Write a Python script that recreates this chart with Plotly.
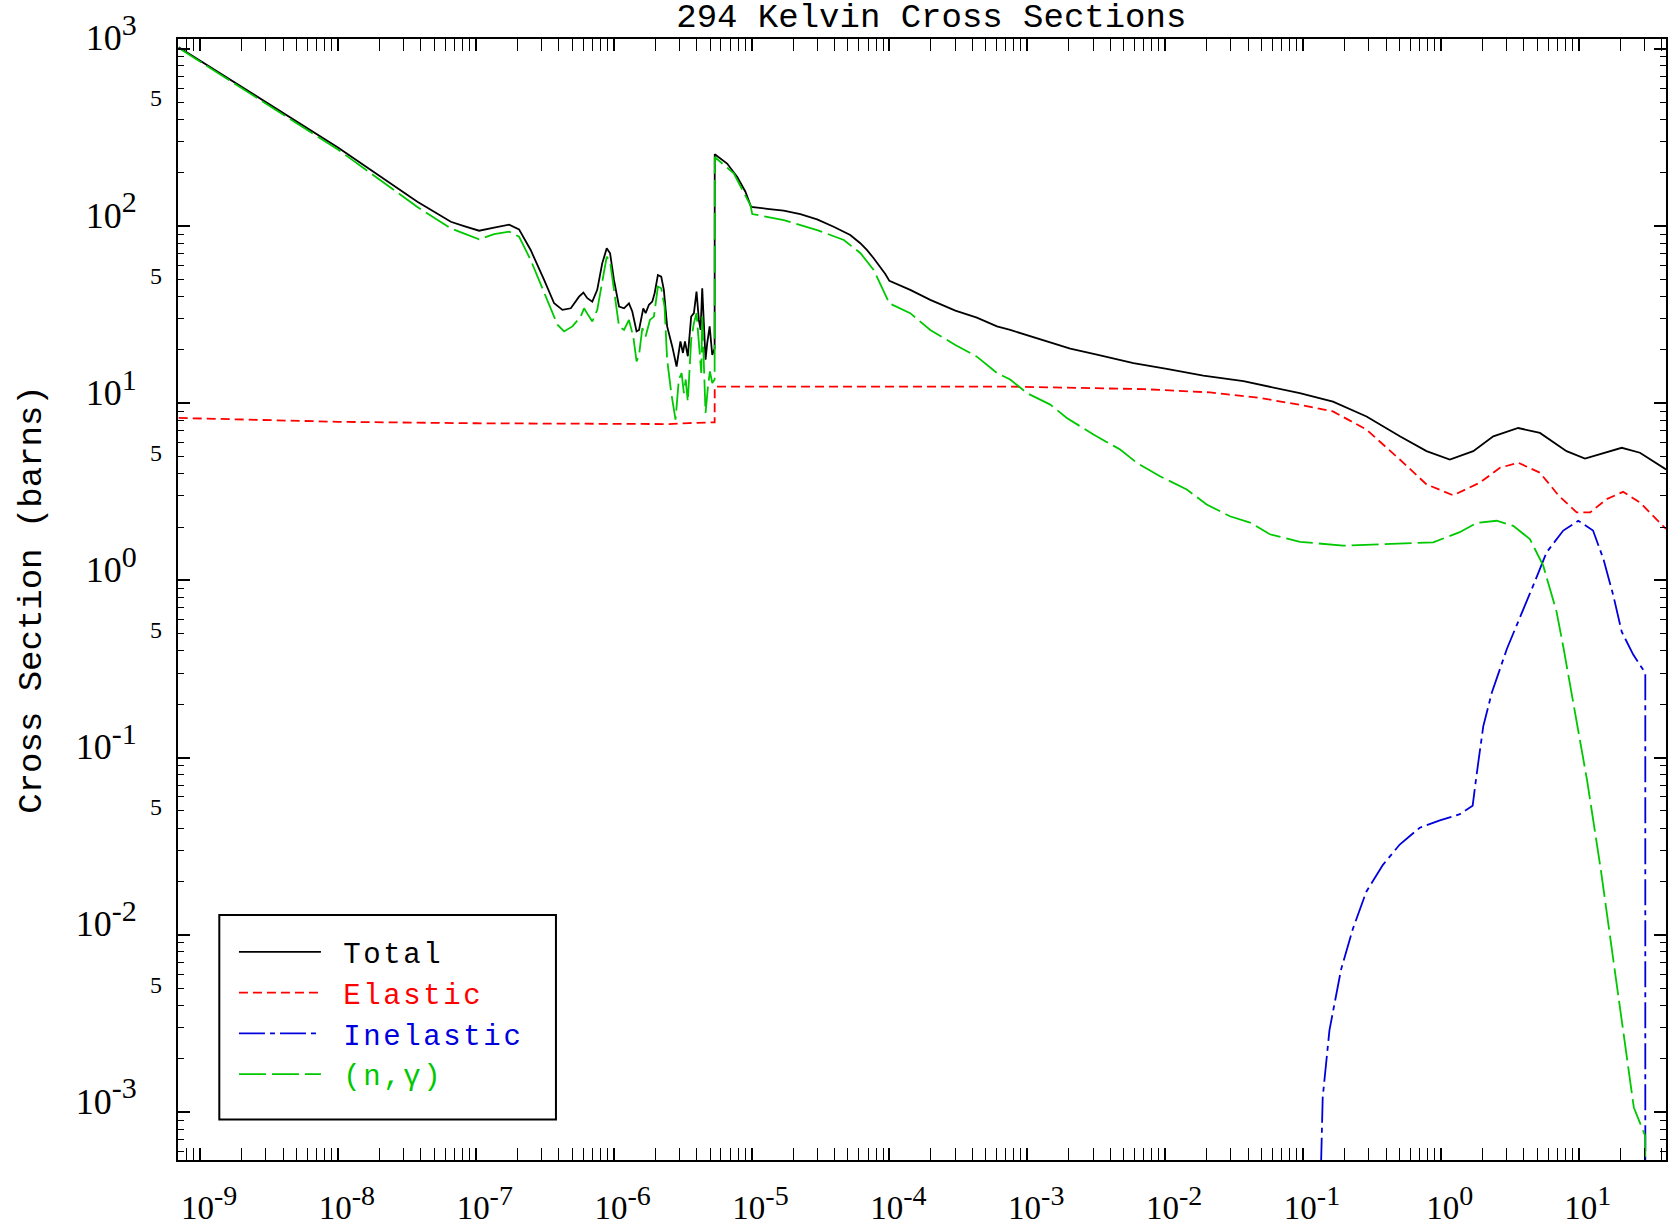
import plotly.graph_objects as go

# ---------------- data (energy in MeV, cross section in barns) ----------------
energy_total = [7.0e-10, 1.0e-8, 3.77e-8, 6.59e-8, 8.22e-8, 1.057e-7, 1.358e-7, 1.746e-7, 2.06e-7, 2.50e-7,
                3.13e-7, 3.70e-7, 4.25e-7, 4.89e-7, 5.61e-7, 6.03e-7, 6.44e-7, 7.00e-7, 7.60e-7, 8.26e-7,
                8.91e-7, 9.42e-7, 1.005e-6, 1.094e-6, 1.189e-6, 1.291e-6, 1.365e-6, 1.466e-6, 1.528e-6, 1.640e-6,
                1.706e-6, 1.803e-6, 1.905e-6, 1.982e-6, 2.094e-6, 2.213e-6, 2.312e-6, 2.443e-6, 2.66e-6, 2.86e-6,
                3.05e-6, 3.18e-6, 3.29e-6, 3.45e-6, 3.65e-6, 3.82e-6, 3.99e-6, 4.15e-6, 4.27e-6, 4.39e-6,
                4.64e-6, 4.77e-6, 4.97e-6, 5.19e-6, 5.40e-6, 5.41e-6, 6.65e-6, 7.88e-6, 9.03e-6, 9.93e-6,
                1.30e-5, 1.71e-5, 2.26e-5, 2.99e-5, 3.94e-5, 5.20e-5, 6.15e-5, 6.89e-5, 7.69e-5, 8.59e-5,
                9.34e-5, 1.0e-4, 1.416e-4, 1.98e-4, 3.01e-4,
                4.31e-4, 6.03e-4, 7.52e-4, 1.052e-3, 2.05e-3, 3.20e-3, 5.89e-3, 1.028e-2, 1.892e-2, 3.70e-2,
                6.46e-2, 0.0948, 0.165, 0.289, 0.504, 0.787, 1.162, 1.717, 2.40, 3.64,
                5.23, 8.16, 11.1, 15.1, 20.5, 27.8, 43.0]
xs_total = [1021, 277, 137, 105.6, 99.9, 94.0, 97.7, 101.6, 95.6, 73.2,
            49.6, 36.6, 33.6, 34.3, 39.9, 42.1, 39.1, 37.4, 43.6, 61.5,
            74.8, 70.1, 49.6, 35.1, 34.3, 36.6, 32.9, 25.4, 25.9, 34.3,
            32.2, 35.9, 37.4, 41.7, 52.9, 51.8, 43.6, 27.1, 20.9, 16.1,
            22.3, 19.2, 22.3, 18.4, 30.8, 32.2, 42.6, 29.5, 25.9, 44.5,
            17.6, 21.8, 27.1, 18.7, 20.4, 254, 225, 189, 156, 128,
            125, 122, 116.7, 109, 99.0, 88.9, 79.9, 73.1, 65.7, 58.9,
            53.6, 49.0, 43.6, 38.3, 33.3,
            30.4, 27.1, 25.9, 23.8, 20.3, 18.8, 16.8, 15.6, 14.3, 13.3,
            12.2, 11.4, 10.2, 8.41, 6.50, 5.36, 4.81, 5.36, 6.50, 7.24,
            6.79, 5.36, 4.87, 5.25, 5.60, 5.25, 4.23]

energy_elastic = [7.0e-10, 1.0e-8, 1.0e-7, 1.0e-6, 2.5e-6, 3.5e-6, 5.40e-6, 5.41e-6, 7.52e-4, 6.95e-3,
                  2.12e-2, 4.88e-2, 0.0948, 0.165, 0.289, 0.504, 0.787, 1.229, 1.92, 2.68,
                  3.64, 5.23, 7.18, 9.66, 12.1, 15.9, 21.0, 27.8, 43.0]
xs_elastic = [8.25, 7.85, 7.70, 7.60, 7.62, 7.72, 7.80, 12.4, 12.4, 12.0,
              11.5, 10.7, 9.79, 8.98, 7.09, 4.81, 3.48, 3.02, 3.56, 4.32,
              4.61, 4.05, 3.00, 2.42, 2.42, 2.87, 3.16, 2.75, 1.95]

energy_inelastic = [0.133, 0.139, 0.1556, 0.169, 0.189, 0.230, 0.288, 0.380, 0.503, 0.703,
                    0.983, 1.375, 1.70, 1.82, 2.03, 2.34, 3.01, 4.68, 5.85, 7.72,
                    9.92, 12.7, 15.1, 17.8, 20.5, 24.9, 30.4, 30.4]
xs_inelastic = [3e-4, 1.21e-3, 2.90e-3, 4.12e-3, 6.38e-3, 0.0108, 0.0175, 0.0248, 0.0323, 0.0402,
                0.0442, 0.0479, 0.0534, 0.0810, 0.150, 0.232, 0.410, 0.937, 1.44, 1.91,
                2.17, 1.91, 1.32, 0.824, 0.513, 0.380, 0.300, 1e-4]

energy_capture = [7.0e-10, 1.0e-8, 3.77e-8, 6.59e-8, 1.057e-7, 1.358e-7, 1.746e-7, 2.06e-7, 2.50e-7, 3.13e-7,
                  3.91e-7, 4.37e-7, 5.02e-7, 5.77e-7, 6.10e-7, 6.52e-7, 7.00e-7, 7.60e-7, 8.26e-7, 8.91e-7,
                  9.42e-7, 1.005e-6, 1.094e-6, 1.189e-6, 1.291e-6, 1.387e-6, 1.466e-6, 1.528e-6, 1.614e-6, 1.706e-6,
                  1.832e-6, 1.959e-6, 2.094e-6, 2.213e-6, 2.339e-6, 2.443e-6, 2.618e-6, 2.81e-6, 2.97e-6, 3.11e-6,
                  3.23e-6, 3.33e-6, 3.45e-6, 3.65e-6, 3.82e-6, 3.99e-6, 4.15e-6, 4.32e-6, 4.39e-6, 4.64e-6,
                  4.83e-6, 4.99e-6, 5.19e-6, 5.40e-6, 5.41e-6, 7.43e-6, 9.82e-6, 1.012e-5, 1.714e-5, 2.99e-5,
                  4.67e-5, 6.17e-5, 7.69e-5, 1.0e-4, 1.416e-4, 1.98e-4, 3.01e-4, 4.31e-4, 6.03e-4, 7.52e-4,
                  9.95e-4, 1.469e-3, 1.936e-3, 3.02e-3, 4.72e-3, 6.22e-3, 9.18e-3, 1.435e-2, 2.00e-2, 2.95e-2,
                  4.13e-2, 5.75e-2, 9.51e-2, 0.1567, 0.195, 0.880, 1.37, 1.82, 2.54, 3.35,
                  4.42, 5.53, 6.91, 7.78, 9.20, 11.5, 14.4, 18.0, 21.3, 25.1,
                  30.4, 30.4]
xs_capture = [1010, 270, 128, 96.9, 84.0, 90.0, 92.8, 87.0, 64.3, 41.7,
              27.7, 25.4, 27.1, 30.8, 34.3, 31.5, 28.9, 33.6, 49.6, 67.1,
              62.9, 43.6, 27.1, 25.9, 29.5, 23.8, 17.2, 18.7, 26.5, 23.8,
              29.5, 30.8, 45.5, 44.5, 35.1, 17.6, 11.4, 8.07, 13.6, 14.8,
              11.4, 13.6, 10.2, 22.8, 28.3, 32.2, 20.9, 14.8, 30.8, 8.80,
              12.4, 15.1, 13.0, 13.6, 245, 198, 131, 116.7, 108, 94.8,
              83.3, 70.2, 56.5, 36.6, 32.2, 25.9, 21.3, 18.3, 14.8, 13.6,
              11.4, 9.81, 8.25, 6.65, 5.47, 4.61, 3.87, 3.26, 2.68, 2.30,
              2.12, 1.82, 1.65, 1.60, 1.57, 1.64, 1.87, 2.11, 2.17, 2.03,
              1.71, 1.21, 0.664, 0.410, 0.194, 0.0743, 0.0238, 6.97e-3, 2.66e-3, 1.06e-3,
              7.3e-4, 1e-5]

# ---------------- ticks ----------------
x_tick_vals = [1e-9, 1e-8, 1e-7, 1e-6, 1e-5, 1e-4, 1e-3, 1e-2, 1e-1, 1e0, 1e1]
x_tick_exp = ["-9", "-8", "-7", "-6", "-5", "-4", "-3", "-2", "-1", "0", "1"]
y_tick_vals = [1e-3, 1e-2, 1e-1, 1e0, 1e1, 1e2, 1e3]
y_tick_exp = ["-3", "-2", "-1", "0", "1", "2", "3"]
y_five_vals = [5e-3, 5e-2, 5e-1, 5e0, 5e1, 5e2]
y_five_text = ["5", "5", "5", "5", "5", "5"]
x_minor_vals = [d * 10.0 ** e for e in range(-10, 2) for d in range(2, 10)]
y_minor_vals = [d * 10.0 ** e for e in range(-4, 3) for d in range(2, 10)]

X_SUP = "10<sup><span style='font-size:28px'>{}</span></sup>"
Y_SUP = "10<sup><span style='font-size:30px'>{}</span></sup>"
x_tick_text = [X_SUP.format(e) for e in x_tick_exp]
y_tick_text = [Y_SUP.format(e) for e in y_tick_exp]

X_RANGE = [-9.16, 1.633]
Y_RANGE = [-3.271, 3.055]

NB = "\u00a0"
LEG = NB + "<span style='color:{};letter-spacing:2.6px'>{}</span>"

fig = go.Figure()
fig.add_trace(go.Scatter(x=energy_total, y=xs_total, mode="lines",
                         name=LEG.format("#000000", "Total"),
                         line=dict(color="black", width=1.8)))
fig.add_trace(go.Scatter(x=energy_elastic, y=xs_elastic, mode="lines",
                         name=LEG.format("#ff0000", "Elastic"),
                         line=dict(color="#ff0000", width=1.8, dash="9px,5px")))
fig.add_trace(go.Scatter(x=energy_inelastic, y=xs_inelastic, mode="lines",
                         name=LEG.format("#0000dd", "Inelastic"),
                         line=dict(color="#0000dd", width=1.8, dash="26px,5px,5px,5px")))
fig.add_trace(go.Scatter(x=energy_capture, y=xs_capture, mode="lines",
                         name=LEG.format("#00c800", "(n,\u03b3)"),
                         line=dict(color="#00c800", width=1.8, dash="27px,6px")))
# empty traces that carry the auxiliary y axes ("5" labels on the left, ticks on the right)
fig.add_trace(go.Scatter(x=[], y=[], yaxis="y2", showlegend=False, hoverinfo="skip"))
fig.add_trace(go.Scatter(x=[], y=[], yaxis="y3", showlegend=False, hoverinfo="skip"))

axis_common = dict(type="log", showline=True, linecolor="black", linewidth=2,
                   ticks="inside", tickcolor="black", tickwidth=1.5, ticklen=12,
                   showgrid=False, zeroline=False, automargin=False)
minor_y = dict(tickmode="array", tickvals=y_minor_vals, ticks="inside",
               ticklen=6, tickwidth=1.2, tickcolor="black", showgrid=False)

fig.update_layout(
    width=1669, height=1225,
    margin=dict(l=178, r=3, t=39, b=65, autoexpand=False),
    paper_bgcolor="white", plot_bgcolor="white",
    title=dict(text="294 Kelvin Cross Sections",
               font=dict(family="Liberation Mono", size=34, color="black"),
               x=0.558, xref="container", xanchor="center",
               y=0.9878, yref="container", yanchor="middle"),
    xaxis=dict(**axis_common, mirror="allticks", range=X_RANGE, tickmode="array",
               tickvals=x_tick_vals, ticktext=x_tick_text,
               tickfont=dict(family="Liberation Serif", size=33, color="black"),
               ticklabelstandoff=17, ticklabelshift=9,
               minor=dict(tickmode="array", tickvals=x_minor_vals, ticks="inside",
                          ticklen=6, tickwidth=1.2, tickcolor="black", showgrid=False)),
    yaxis=dict(**axis_common, mirror=True, range=Y_RANGE, tickmode="array",
               tickvals=y_tick_vals, ticktext=y_tick_text,
               tickfont=dict(family="Liberation Serif", size=36, color="black"),
               ticklabelstandoff=32, ticklabelshift=-11,
               minor=minor_y,
               title=dict(text="Cross Section (barns)",
                          font=dict(family="Liberation Mono", size=34, color="black"),
                          standoff=24)),
    yaxis2=dict(type="log", overlaying="y", side="left", anchor="x", range=Y_RANGE,
                tickmode="array", tickvals=y_five_vals, ticktext=y_five_text,
                ticks="", showline=False, showgrid=False, zeroline=False, automargin=False,
                tickfont=dict(family="Liberation Serif", size=24, color="black"),
                ticklabelstandoff=15, ticklabelshift=-4),
    yaxis3=dict(type="log", overlaying="y", side="right", anchor="x", range=Y_RANGE,
                tickmode="array", tickvals=y_tick_vals, showticklabels=False,
                ticks="inside", ticklen=12, tickwidth=1.5, tickcolor="black",
                showline=False, showgrid=False, zeroline=False, automargin=False,
                minor=minor_y),
    legend=dict(x=0.0376, y=0.2082, xanchor="left", yanchor="top",
                bgcolor="rgba(0,0,0,0)", borderwidth=0,
                font=dict(family="Liberation Mono", size=29, color="black"),
                itemwidth=82, tracegroupgap=0, traceorder="normal"),
    shapes=[dict(type="rect", xref="paper", yref="paper",
                 x0=0.02776, x1=0.2540, y0=0.03613, y1=0.21855,
                 line=dict(color="black", width=2), fillcolor="rgba(0,0,0,0)", layer="above")],
    showlegend=True,
)

fig.write_html(
    "out.html",
    config={"displayModeBar": False},
    post_script="document.body.style.margin='0px';document.body.style.overflow='hidden';",
)
